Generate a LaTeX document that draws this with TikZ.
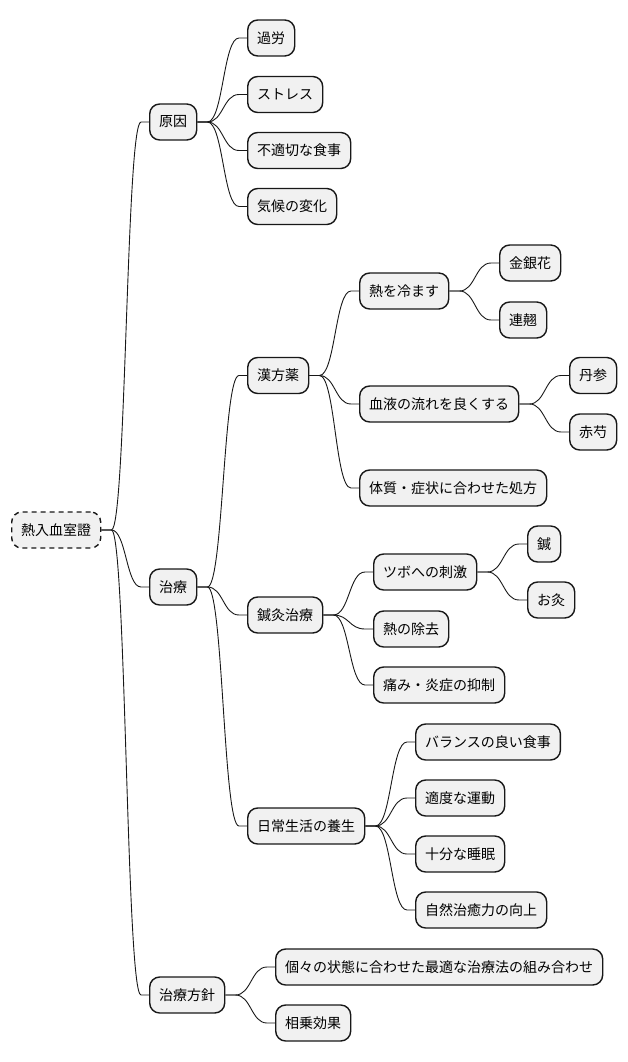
\documentclass[tikz,border=0pt]{standalone}
\usepackage{fontspec}
\setmainfont{Noto Sans CJK JP}
\usepackage{tikz}
\usetikzlibrary{calc}
\definecolor{boxfill}{HTML}{F1F1F1}
\definecolor{boxline}{HTML}{181818}

\newcommand\branch[2]{%
  \draw[link] let \p1=([xshift=10pt]#1.east), \p2=([xshift=-8pt]#2.west) in
    (#1.east) -- (\p1) .. controls (\x1/2+\x2/2,\y1) and (\x1/2+\x2/2,\y2) .. (\p2) -- (#2.west);}

\begin{document}
\begin{tikzpicture}[x=1pt, y=-1pt,
  topic/.style={draw=boxline, fill=boxfill, line width=1.4pt, rounded corners=10pt,
                anchor=west, minimum height=36pt, inner xsep=9.5pt,
                font=\fontsize{14}{16}\selectfont, text=black},
  root/.style={topic, dash pattern=on 5pt off 4pt},
  link/.style={draw=boxline, line width=0.9pt},
]
  \useasboundingbox (0,0) rectangle (628,1062);

  \node[root]  (root)    at (11,530)    {熱入血室證};

  \node[topic] (cause)   at (149,122)   {原因};
  \node[topic] (c1)      at (247,38)    {過労};
  \node[topic] (c2)      at (247,94.5)  {ストレス};
  \node[topic] (c3)      at (247,150.5) {不適切な食事};
  \node[topic] (c4)      at (247,206.5) {気候の変化};

  \node[topic] (treat)   at (149,587)   {治療};
  \node[topic] (kampo)   at (247,375.5) {漢方薬};
  \node[topic] (cool)    at (359,291)   {熱を冷ます};
  \node[topic] (kin)     at (499,263)   {金銀花};
  \node[topic] (ren)     at (499,320)   {連翹};
  \node[topic] (blood)   at (359,404)   {血液の流れを良くする};
  \node[topic] (tan)     at (569,375.5) {丹参};
  \node[topic] (seki)    at (569,432)   {赤芍};
  \node[topic] (rx)      at (359,488)   {体質・症状に合わせた処方};
  \node[topic] (acu)     at (247,615)   {鍼灸治療};
  \node[topic] (tsubo)   at (373,572)   {ツボへの刺激};
  \node[topic] (hari)    at (527,544)   {鍼};
  \node[topic] (kyu)     at (527,600)   {お灸};
  \node[topic] (noheat)  at (373,629)   {熱の除去};
  \node[topic] (pain)    at (373,685)   {痛み・炎症の抑制};
  \node[topic] (life)    at (247,826)   {日常生活の養生};
  \node[topic] (diet)    at (415,742)   {バランスの良い食事};
  \node[topic] (exer)    at (415,798)   {適度な運動};
  \node[topic] (sleep)   at (415,854)   {十分な睡眠};
  \node[topic] (heal)    at (415,910)   {自然治癒力の向上};

  \node[topic] (policy)  at (149,995)   {治療方針};
  \node[topic] (combo)   at (275,967)   {個々の状態に合わせた最適な治療法の組み合わせ};
  \node[topic] (synergy) at (275,1023)  {相乗効果};

  % branches
  \foreach \from/\to in {root/cause, root/treat, root/policy,
                     cause/c1, cause/c2, cause/c3, cause/c4,
                     treat/kampo, treat/acu, treat/life,
                     kampo/cool, kampo/blood, kampo/rx,
                     cool/kin, cool/ren, blood/tan, blood/seki,
                     acu/tsubo, acu/noheat, acu/pain, tsubo/hari, tsubo/kyu,
                     life/diet, life/exer, life/sleep, life/heal,
                     policy/combo, policy/synergy}
    {\branch{\from}{\to}}
\end{tikzpicture}
\end{document}
